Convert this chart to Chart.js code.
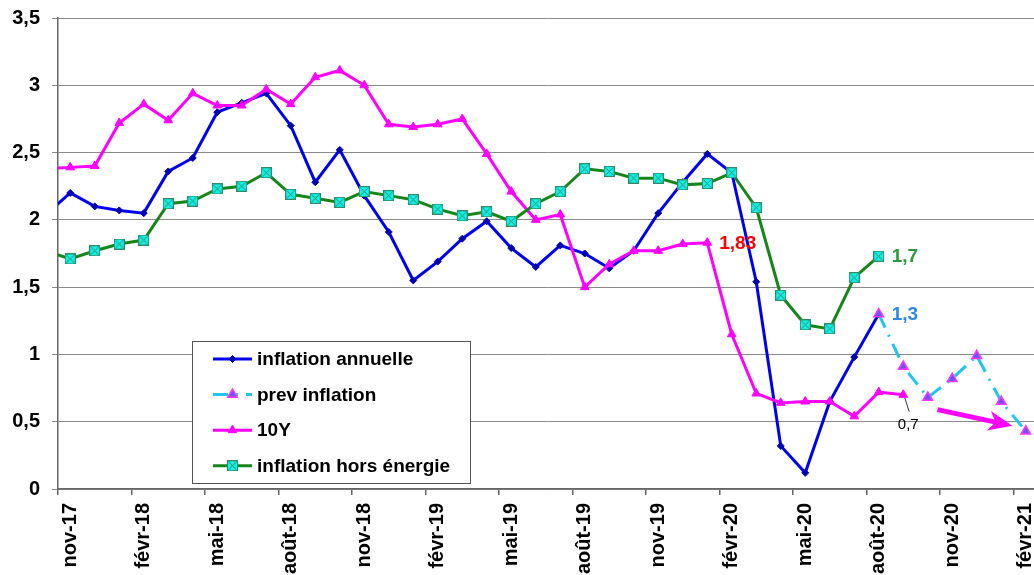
<!DOCTYPE html>
<html>
<head>
<meta charset="utf-8">
<script src="https://cdn.jsdelivr.net/npm/chart.js@4.4.1/dist/chart.umd.min.js"></script>
<style>
  html, body { margin: 0; padding: 0; overflow: hidden; background: #fff; }
  #wrap { width: 1045px; height: 575px; }
</style>
</head>
<body>
<div id="wrap"><canvas id="chart" width="1045" height="575"></canvas></div>
<script>
// months (oct-17 sits just left of the axis, only its segment shows)
const months = ['oct-17', 'nov-17', 'déc-17', 'janv-18', 'févr-18', 'mars-18', 'avr-18', 'mai-18', 'juin-18',
  'juil-18', 'août-18', 'sept-18', 'oct-18', 'nov-18', 'déc-18', 'janv-19', 'févr-19', 'mars-19', 'avr-19',
  'mai-19', 'juin-19', 'juil-19', 'août-19', 'sept-19', 'oct-19', 'nov-19', 'déc-19', 'janv-20', 'févr-20',
  'mars-20', 'avr-20', 'mai-20', 'juin-20', 'juil-20', 'août-20', 'sept-20', 'oct-20', 'nov-20', 'déc-20',
  'janv-21', 'févr-21'];

const inflationAnnuelle = [2.04, 2.2, 2.1, 2.07, 2.05, 2.36, 2.46, 2.8, 2.87, 2.94, 2.7, 2.28, 2.52,
  2.18, 1.91, 1.55, 1.69, 1.86, 1.99, 1.79, 1.65, 1.81, 1.75, 1.64, 1.77, 2.05, 2.28, 2.49, 2.35,
  1.54, 0.32, 0.12, 0.65, 0.98, 1.3, null, null, null, null, null, null];

const prevInflation = [null, null, null, null, null, null, null, null, null, null, null, null, null,
  null, null, null, null, null, null, null, null, null, null, null, null, null, null, null, null,
  null, null, null, null, null, 1.3, 0.91, 0.68, 0.82, 0.99, 0.65, 0.43];

const taux10Y = [2.38, 2.39, 2.40, 2.72, 2.86, 2.74, 2.94, 2.85, 2.85, 2.97, 2.86, 3.06, 3.11,
  3.0, 2.71, 2.69, 2.71, 2.75, 2.49, 2.21, 2.0, 2.04, 1.5, 1.67, 1.77, 1.77, 1.82, 1.83, 1.15,
  0.71, 0.64, 0.65, 0.65, 0.54, 0.72, 0.70, null, null, null, null, null];

const horsEnergie = [1.77, 1.71, 1.77, 1.82, 1.85, 2.12, 2.14, 2.23, 2.25, 2.35, 2.19, 2.16, 2.13,
  2.21, 2.18, 2.15, 2.08, 2.03, 2.06, 1.99, 2.12, 2.21, 2.38, 2.36, 2.31, 2.31, 2.26, 2.27, 2.35,
  2.09, 1.44, 1.22, 1.19, 1.57, 1.73, null, null, null, null, null, null];

const yTicks = ['0', '0,5', '1', '1,5', '2', '2,5', '3', '3,5'];

const FONT = "'Liberation Sans', Arial, sans-serif";

// cyan square with a cross, like the excel marker
function squareCross() {
  const c = document.createElement('canvas');
  c.width = 11; c.height = 11;
  const g = c.getContext('2d');
  g.fillStyle = '#12f0ea';
  g.fillRect(0, 0, 11, 11);
  g.strokeStyle = '#2c8c66';
  g.lineWidth = 1;
  g.strokeRect(0.5, 0.5, 10, 10);
  g.beginPath();
  g.moveTo(1.5, 1.5); g.lineTo(9.5, 9.5);
  g.moveTo(9.5, 1.5); g.lineTo(1.5, 9.5);
  g.stroke();
  return c;
}
const greenMarker = squareCross();

// labels, arrow and legend drawn over the plot
const overlay = {
  id: 'overlay',
  afterDatasetsDraw(chart) {
    const { ctx, chartArea: a, scales: { x, y } } = chart;
    const pt = (ds, i) => chart.getDatasetMeta(ds).data[i];
    const last = months.indexOf('août-20');
    ctx.save();
    ctx.textBaseline = 'middle';
    ctx.textAlign = 'left';

    ctx.font = 'bold 19px ' + FONT;
    let p = pt(2, months.indexOf('janv-20'));
    ctx.fillStyle = '#ff0000';
    ctx.fillText('1,83', p.x + 12, p.y + 1);

    p = pt(3, last);
    ctx.fillStyle = '#2a9a3c';
    ctx.fillText('1,7', p.x + 13, p.y + 1);

    p = pt(0, last);
    ctx.fillStyle = '#2b86ee';
    ctx.fillText('1,3', p.x + 13, p.y + 1);

    // 0,7 with its leader line
    p = pt(2, last + 1);
    ctx.strokeStyle = '#000';
    ctx.lineWidth = 0.8;
    ctx.beginPath();
    ctx.moveTo(p.x + 1.5, p.y + 3);
    ctx.lineTo(p.x + 6, p.y + 17);
    ctx.stroke();
    ctx.font = '15px ' + FONT;
    ctx.fillStyle = '#000';
    ctx.textAlign = 'center';
    ctx.fillText('0,7', p.x + 5, p.y + 30);

    // magenta arrow
    const x0 = x.getPixelForValue(36.4), y0 = y.getPixelForValue(0.59);
    const x1 = x.getPixelForValue(39.45), y1 = y.getPixelForValue(0.47);
    const ang = Math.atan2(y1 - y0, x1 - x0);
    ctx.strokeStyle = '#ff00ff';
    ctx.fillStyle = '#ff00ff';
    ctx.lineWidth = 5;
    ctx.beginPath();
    ctx.moveTo(x0, y0);
    ctx.lineTo(x1 - 16 * Math.cos(ang), y1 - 16 * Math.sin(ang));
    ctx.stroke();
    ctx.beginPath();
    ctx.moveTo(x1, y1);
    ctx.lineTo(x1 - 24 * Math.cos(ang) + 10 * Math.sin(ang), y1 - 24 * Math.sin(ang) - 10 * Math.cos(ang));
    ctx.lineTo(x1 - 17 * Math.cos(ang), y1 - 17 * Math.sin(ang));
    ctx.lineTo(x1 - 24 * Math.cos(ang) - 10 * Math.sin(ang), y1 - 24 * Math.sin(ang) + 10 * Math.cos(ang));
    ctx.closePath();
    ctx.fill();

    // legend box
    const bx = a.left + 134, by = a.top + 323, bw = 278, bh = 142;
    ctx.fillStyle = '#fff';
    ctx.fillRect(bx, by, bw, bh);
    ctx.strokeStyle = '#555';
    ctx.lineWidth = 1;
    ctx.strokeRect(bx + 0.5, by + 0.5, bw, bh);
    ctx.textAlign = 'left';
    ctx.font = 'bold 19px ' + FONT;
    chart.data.datasets.forEach((ds, i) => {
      const ry = by + 18 + i * 35.6;
      const lx = bx + 21;
      ctx.save();
      ctx.strokeStyle = ds.borderColor;
      ctx.lineWidth = ds.borderWidth;
      ctx.setLineDash(ds.borderDash || []);
      ctx.beginPath();
      ctx.moveTo(lx, ry);
      ctx.lineTo(lx + 39, ry);
      ctx.stroke();
      ctx.restore();
      ctx.save();
      ctx.fillStyle = ds.pointBackgroundColor;
      ctx.strokeStyle = ds.pointBorderColor;
      ctx.lineWidth = ds.pointBorderWidth;
      Chart.helpers.drawPoint(ctx, {
        pointStyle: ds.pointStyle, radius: ds.pointRadius, rotation: 0, borderWidth: ds.pointBorderWidth
      }, lx + 19.5, ry);
      ctx.restore();
      ctx.fillStyle = '#000';
      ctx.fillText(ds.label, bx + 65, ry + 1);
    });
    ctx.restore();
  }
};

new Chart(document.getElementById('chart'), {
  type: 'line',
  data: {
    labels: months,
    datasets: [
      {
        label: 'inflation annuelle', data: inflationAnnuelle, order: 4,
        borderColor: '#0000f0', borderWidth: 3,
        pointStyle: 'rectRot', pointRadius: 3.5, pointBackgroundColor: '#0000b0',
        pointBorderColor: '#0000b0', pointBorderWidth: 1
      },
      {
        label: 'prev inflation', data: prevInflation, order: 3,
        borderColor: '#1ec6ef', borderWidth: 3, borderDash: [15, 8, 2, 8],
        pointStyle: 'triangle', pointRadius: 5.5, pointBackgroundColor: '#6a55f2',
        pointBorderColor: '#ff33ff', pointBorderWidth: 1.5
      },
      {
        label: '10Y', data: taux10Y, order: 2,
        borderColor: '#ff00ff', borderWidth: 3,
        pointStyle: 'triangle', pointRadius: 5, pointBackgroundColor: '#ff00ff',
        pointBorderColor: '#ff00ff', pointBorderWidth: 1
      },
      {
        label: 'inflation hors énergie', data: horsEnergie, order: 1,
        borderColor: '#17861a', borderWidth: 3,
        pointStyle: greenMarker, pointRadius: 5, pointBackgroundColor: '#12f0ea',
        pointBorderColor: '#2c8c66', pointBorderWidth: 1
      }
    ]
  },
  options: {
    responsive: false,
    animation: false,
    events: [],
    layout: { padding: { top: 18, right: 2, left: 0, bottom: 0 } },
    plugins: { legend: { display: false }, tooltip: { enabled: false } },
    elements: { line: { tension: 0 } },
    scales: {
      x: {
        type: 'category',
        min: 'nov-17',
        offset: true,
        grid: {
          offset: true,
          drawOnChartArea: false,
          tickLength: 6,
          lineWidth: 1.5,
          color: c => (c.tick && (c.tick.value - 1) % 3 === 0) ? '#666' : 'rgba(0,0,0,0)'
        },
        border: { color: '#666', width: 1.5 },
        ticks: {
          autoSkip: false,
          maxRotation: 90,
          minRotation: 90,
          padding: 8,
          color: '#000',
          font: { family: FONT, size: 20, weight: 'bold' },
          callback: function (v) { return (v - 1) % 3 === 0 ? this.getLabelForValue(v) : ''; }
        },
        afterFit: s => { s.height = 86; s.paddingLeft = 0; s.paddingRight = 0; }
      },
      y: {
        min: 0,
        max: 3.5,
        grid: { color: '#8a8a8a', lineWidth: 1, tickLength: 6 },
        border: { color: '#666', width: 1.5 },
        ticks: {
          stepSize: 0.5,
          padding: 12,
          color: '#000',
          font: { family: FONT, size: 20, weight: 'bold' },
          callback: (v, i) => yTicks[Math.round(v * 2)]
        },
        afterFit: s => { s.width = 58; s.paddingTop = 0; s.paddingBottom = 0; }
      }
    }
  },
  plugins: [overlay]
});
</script>
</body>
</html>
